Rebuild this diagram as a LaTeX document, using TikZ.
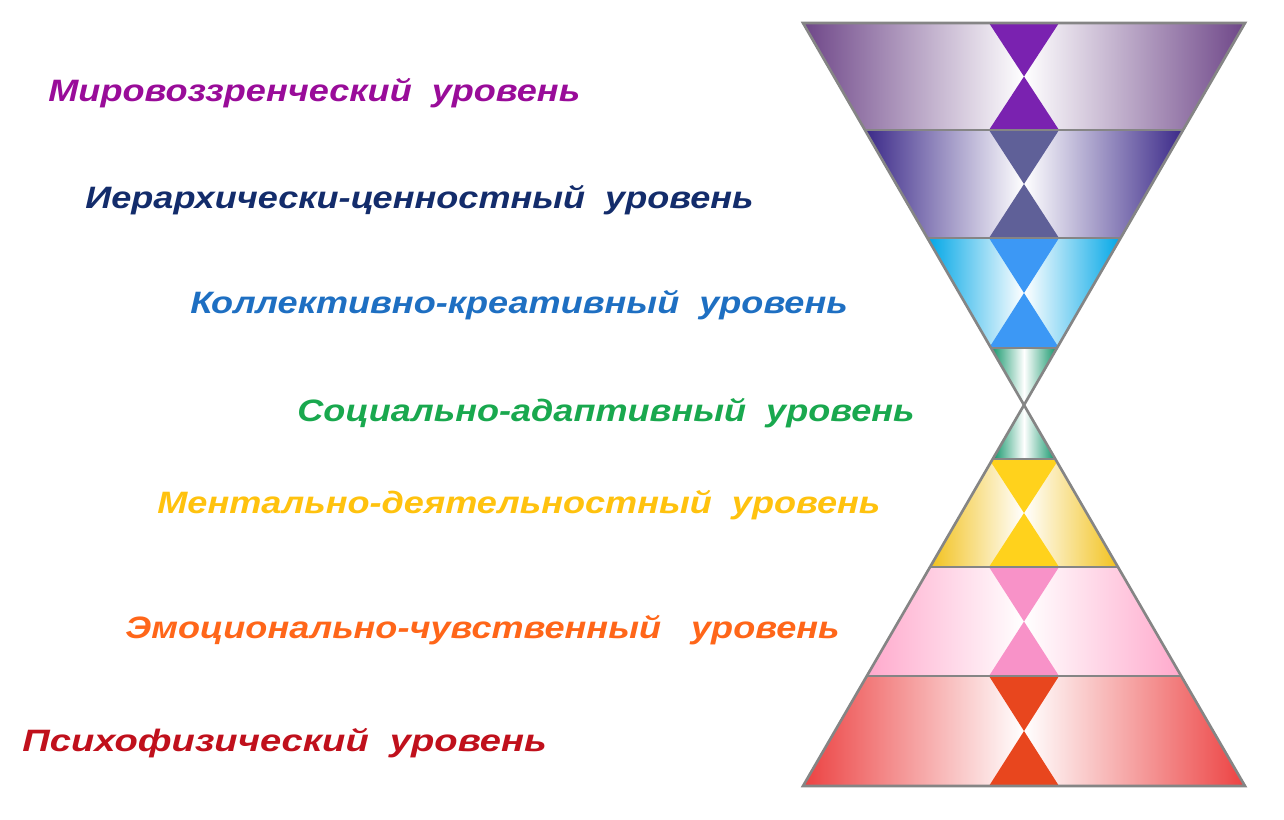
\documentclass[tikz,border=0pt]{standalone}
\usepackage{fontspec}
\setmainfont{Liberation Sans}
\usetikzlibrary{calc}

% band colours: outer edge and centre hourglass
\definecolor{edgeA}{HTML}{6E4688}
\definecolor{hourA}{HTML}{7A22B0}
\definecolor{edgeB}{HTML}{3A2888}
\definecolor{hourB}{HTML}{5F6098}
\definecolor{edgeC}{HTML}{00A6E6}
\definecolor{hourC}{HTML}{3C98F5}
\definecolor{edgeD}{HTML}{12966A}
\definecolor{edgeE}{HTML}{F2C21E}
\definecolor{hourE}{HTML}{FFD21C}
\definecolor{edgeF}{HTML}{FFA9CC}
\definecolor{hourF}{HTML}{F892C8}
\definecolor{edgeG}{HTML}{EC4242}
\definecolor{hourG}{HTML}{E8461E}
\definecolor{lineGrey}{HTML}{858585}
% label colours
\definecolor{txtA}{HTML}{990C99}
\definecolor{txtB}{HTML}{132C6B}
\definecolor{txtC}{HTML}{1E6FC2}
\definecolor{txtD}{HTML}{19A84E}
\definecolor{txtE}{HTML}{FFC20E}
\definecolor{txtF}{HTML}{FF6619}
\definecolor{txtG}{HTML}{C0101C}

\begin{document}
\begin{tikzpicture}[x=0.02cm, y=-0.02cm,
    levelline/.style={draw=lineGrey, line width=1.5pt},
    lbl/.style={anchor=base west, inner sep=0pt, xscale=1.167,
        font=\fontsize{17.6}{20}\selectfont\bfseries\itshape}]
    \useasboundingbox (0,0) rectangle (1284,819);

    \coordinate (topL) at (803,23);
    \coordinate (topR) at (1245,23);
    \coordinate (waist) at (1024,405);
    \coordinate (botL) at (803,786);
    \coordinate (botR) at (1245,786);

    % the bands, each with its hourglass
    \foreach \ya/\yb/\edge/\hour in {23/130/edgeA/hourA, 130/238/edgeB/hourB,
            238/348/edgeC/hourC, 348/405/edgeD/none, 405/459/edgeD/none,
            459/567/edgeE/hourE, 567/676/edgeF/hourF, 676/786/edgeG/hourG}{
        \pgfmathsetmacro{\wa}{0.5793*abs(405-\ya)}
        \pgfmathsetmacro{\wb}{0.5793*abs(405-\yb)}
        \pgfmathsetmacro{\wm}{max(\wa,\wb)}
        \pgfmathsetmacro{\ym}{(\ya+\yb)/2}
        \begin{scope}
            \clip ({1024-\wa},\ya) -- ({1024+\wa},\ya) -- ({1024+\wb},\yb) -- ({1024-\wb},\yb) -- cycle;
            \fill[left color=\edge, right color=white] ({1024-\wm},\ya) rectangle (1024,\yb);
            \fill[left color=white, right color=\edge] (1024,\ya) rectangle ({1024+\wm},\yb);
            \fill[fill=\hour] (989,\ya) -- (1059,\ya) -- (1024,\ym) -- cycle;
            \fill[fill=\hour] (989,\yb) -- (1059,\yb) -- (1024,\ym) -- cycle;
        \end{scope}
        \draw[levelline] ({1024-\wa},\ya) -- ({1024+\wa},\ya);
    }
    \draw[levelline] (topL) -- (topR) -- (waist) -- cycle;
    \draw[levelline] (botL) -- (botR) -- (waist) -- cycle;

    % labels
    \node[lbl, text=txtA] (mirovozz) at (48,101) {Мировоззренческий\ \ уровень};
    \node[lbl, text=txtB] (ierarh) at (85,208) {Иерархически-ценностный\ \ уровень};
    \node[lbl, text=txtC] (kollekt) at (190,313) {Коллективно-креативный\ \ уровень};
    \node[lbl, text=txtD] (social) at (297,421) {Социально-адаптивный\ \ уровень};
    \node[lbl, text=txtE] (mental) at (157,513) {Ментально-деятельностный\ \ уровень};
    \node[lbl, text=txtF] (emocion) at (125,638) {Эмоционально-чувственный\ \ \ уровень};
    \node[lbl, text=txtG, xscale=1.057] (psiho) at (22,751) {Психофизический\ \ уровень};
\end{tikzpicture}
\end{document}
